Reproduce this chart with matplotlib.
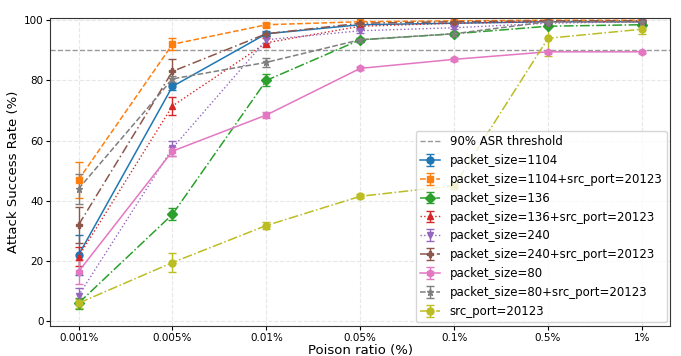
import matplotlib
matplotlib.use("Agg")
import matplotlib.pyplot as plt
import numpy as np

ratios = ["0.001%", "0.005%", "0.01%", "0.05%", "0.1%", "0.5%", "1%"]

labels = [
    "packet_size=1104",
    "packet_size=1104+src_port=20123",
    "packet_size=136",
    "packet_size=136+src_port=20123",
    "packet_size=240",
    "packet_size=240+src_port=20123",
    "packet_size=80",
    "packet_size=80+src_port=20123",
    "src_port=20123",
]

ps1104 = [22.0, 78.0, 95.5, 98.5, 99.0, 99.5, 99.5]
ps1104_port = [47.0, 92.0, 98.5, 99.5, 99.8, 100.0, 100.0]
ps136 = [6.0, 35.5, 80.0, 93.5, 95.5, 98.0, 98.5]
ps136_port = [21.5, 71.5, 92.5, 98.0, 99.0, 99.5, 99.5]
ps240 = [8.5, 57.5, 93.5, 96.5, 97.5, 99.0, 99.5]
ps240_port = [32.0, 83.0, 95.5, 99.0, 99.5, 99.8, 99.8]
ps80 = [16.5, 56.5, 68.5, 84.0, 87.0, 89.5, 89.5]
ps80_port = [44.0, 80.5, 86.0, 93.5, 95.5, 99.5, 99.5]
port = [6.0, 19.5, 31.8, 41.5, 45.0, 94.0, 97.0]

err1104 = [6.5, 1.2, 0.8, 0.5, 0.3, 0.3, 0.3]
err1104_port = [6.0, 2.0, 0.6, 0.4, 0.3, 0.2, 0.2]
err136 = [1.8, 2.0, 2.0, 0.6, 0.6, 0.4, 0.4]
err136_port = [3.0, 3.0, 1.5, 0.5, 0.4, 0.3, 0.3]
err240 = [2.5, 2.5, 1.2, 0.6, 0.5, 0.3, 0.3]
err240_port = [6.0, 4.0, 0.6, 0.4, 0.3, 0.2, 0.2]
err80 = [4.0, 1.5, 1.0, 0.5, 0.4, 0.3, 0.3]
err80_port = [5.0, 1.0, 1.5, 0.6, 0.5, 0.3, 0.3]
errport = [1.5, 3.0, 1.2, 0.6, 1.0, 6.0, 1.5]

series = [ps1104, ps1104_port, ps136, ps136_port, ps240, ps240_port, ps80, ps80_port, port]
errors = [err1104, err1104_port, err136, err136_port, err240, err240_port, err80, err80_port, errport]

colors = ["#1f77b4", "#ff7f0e", "#2ca02c", "#d62728", "#9467bd",
          "#8c564b", "#e377c2", "#7f7f7f", "#bcbd22"]
markers = ["o", "s", "D", "^", "v", "P", "h", "*", "o"]
styles = ["-", "--", "-.", ":", ":", (0, (6, 2, 1, 2)), "-", "--", "-."]

fig, ax = plt.subplots(figsize=(6.81, 3.56), dpi=100)
fig.subplots_adjust(left=0.074, right=0.984, top=0.95, bottom=0.085)

x = np.arange(len(ratios))
ax.axhline(90, color="gray", linestyle="--", linewidth=1.0, alpha=0.8,
           label="90% ASR threshold")

for y, e, c, m, ls, lab in zip(series, errors, colors, markers, styles, labels):
    lw = 1.0 if ls == ":" else 1.1
    ax.errorbar(x, y, yerr=e, color=c, marker=m, linestyle=ls, linewidth=lw,
                markersize=5, capsize=3, elinewidth=1.0, label=lab)

ax.set_xticks(x)
ax.set_xticklabels(ratios, fontsize=7.5)
ax.tick_params(axis="y", labelsize=7.5)
ax.tick_params(axis="both", pad=2, length=3)
ax.set_xlim(-0.3, 6.3)
ax.set_ylim(-1.5, 100.8)
ax.set_xlabel("Poison ratio (%)", fontsize=9.5, labelpad=1)
ax.set_ylabel("Attack Success Rate (%)", fontsize=9.5, labelpad=3)
ax.grid(True, linestyle="--", alpha=0.3)
for s in ax.spines.values():
    s.set_color("#333333")

ax.legend(loc="lower right", fontsize=8.5, handlelength=1.7,
          labelspacing=0.5, borderpad=0.35, handletextpad=0.8,
          borderaxespad=0.3)

fig.savefig("out.png", dpi=100)
